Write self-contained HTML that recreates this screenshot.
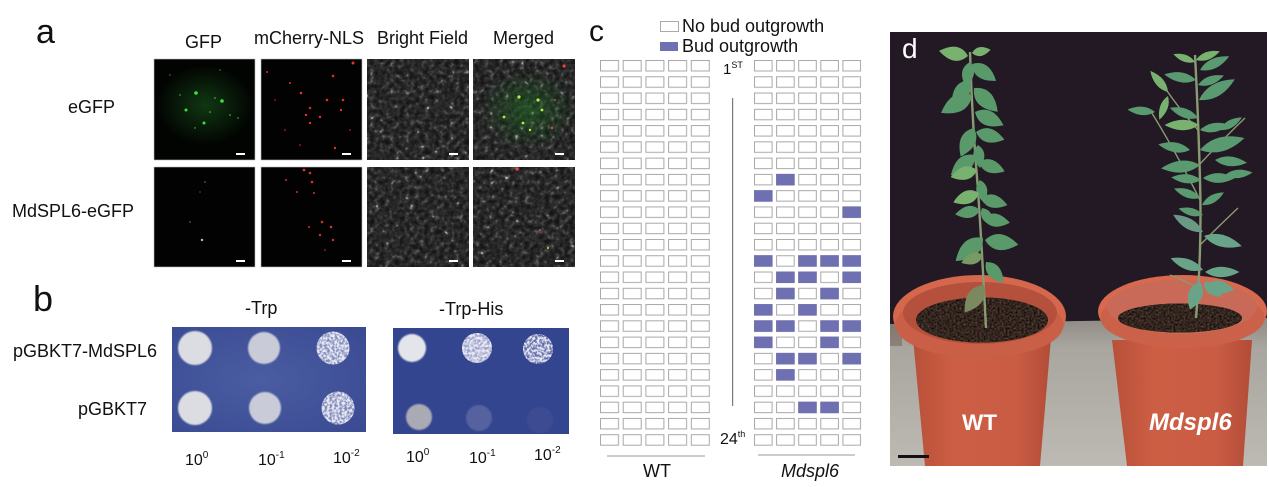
<!DOCTYPE html>
<html><head><meta charset="utf-8"><style>
html,body{margin:0;padding:0;background:#fff;}
svg{display:block;font-family:"Liberation Sans",Arial,sans-serif;}
</style></head><body>
<svg width="1269" height="487" viewBox="0 0 1269 487" xmlns="http://www.w3.org/2000/svg">
<defs>
<filter id="bf" x="0" y="0" width="1" height="1" color-interpolation-filters="sRGB">
<feTurbulence type="fractalNoise" baseFrequency="0.2" numOctaves="2" seed="2"/>
<feColorMatrix type="matrix" values="1 0 0 0 0  1 0 0 0 0  1 0 0 0 0  0 0 0 0 1"/>
<feComponentTransfer>
<feFuncR type="table" tableValues="0.05 0.07 0.09 0.12 0.16 0.21 0.33 0.75 1"/>
<feFuncG type="table" tableValues="0.05 0.07 0.09 0.12 0.16 0.21 0.33 0.75 1"/>
<feFuncB type="table" tableValues="0.05 0.07 0.09 0.12 0.16 0.21 0.33 0.75 1"/>
</feComponentTransfer>
</filter>
<filter id="bf2" x="0" y="0" width="1" height="1" color-interpolation-filters="sRGB">
<feTurbulence type="fractalNoise" baseFrequency="0.2" numOctaves="2" seed="9"/>
<feColorMatrix type="matrix" values="1 0 0 0 0  1 0 0 0 0  1 0 0 0 0  0 0 0 0 1"/>
<feComponentTransfer>
<feFuncR type="table" tableValues="0.05 0.07 0.09 0.12 0.16 0.21 0.33 0.75 1"/>
<feFuncG type="table" tableValues="0.05 0.07 0.09 0.12 0.16 0.21 0.33 0.75 1"/>
<feFuncB type="table" tableValues="0.05 0.07 0.09 0.12 0.16 0.21 0.33 0.75 1"/>
</feComponentTransfer>
</filter>
<filter id="mot" color-interpolation-filters="sRGB">
<feTurbulence type="fractalNoise" baseFrequency="0.4" numOctaves="2" seed="5" result="n"/>
<feColorMatrix in="n" type="matrix" values="0 0 0 0 0.92  0 0 0 0 0.92  0 0 0 0 0.96  0 0 0 3.2 -1.05" result="w"/>
<feComposite in="w" in2="SourceGraphic" operator="in"/>
</filter>
<filter id="soil" x="0" y="0" width="1" height="1" color-interpolation-filters="sRGB">
<feTurbulence type="fractalNoise" baseFrequency="0.5" numOctaves="2" seed="4" result="n"/>
<feColorMatrix in="n" type="matrix" values="0.5 0 0 0 -0.05  0.35 0 0 0 -0.03  0.3 0 0 0 -0.03  0 0 0 0 1" result="c"/>
<feComposite in="c" in2="SourceGraphic" operator="in"/>
</filter>
<filter id="blur1"><feGaussianBlur stdDeviation="0.8"/></filter>
<radialGradient id="ghaze" cx="0.5" cy="0.5" r="0.5">
<stop offset="0" stop-color="#1f6a22" stop-opacity="0.5"/>
<stop offset="1" stop-color="#1f6a22" stop-opacity="0"/>
</radialGradient>
<radialGradient id="mhaze" cx="0.5" cy="0.5" r="0.5">
<stop offset="0" stop-color="#1a7a20" stop-opacity="0.45"/>
<stop offset="1" stop-color="#1a7a20" stop-opacity="0"/>
</radialGradient>
<radialGradient id="plate1" cx="0.45" cy="0.5" r="0.7">
<stop offset="0" stop-color="#4a5ca2"/>
<stop offset="1" stop-color="#3a4b93"/>
</radialGradient>
<linearGradient id="ground" x1="0" y1="0" x2="0" y2="1">
<stop offset="0" stop-color="#8f8a84"/>
<stop offset="0.2" stop-color="#a9a59f"/>
<stop offset="1" stop-color="#bdbab3"/>
</linearGradient>
<linearGradient id="potb" x1="0" y1="0" x2="1" y2="0">
<stop offset="0" stop-color="#b85039"/>
<stop offset="0.3" stop-color="#cc5e44"/>
<stop offset="0.75" stop-color="#c95c43"/>
<stop offset="1" stop-color="#b24c37"/>
</linearGradient>
<pattern id="gw" x="600" y="60" width="22.7" height="16.27" patternUnits="userSpaceOnUse">
<rect x="0.5" y="0.5" width="18" height="10.5" fill="#fff" stroke="#a8a8a8" stroke-width="1"/>
</pattern>
<pattern id="gm" x="754" y="60" width="22.1" height="16.27" patternUnits="userSpaceOnUse">
<rect x="0.5" y="0.5" width="17.6" height="10.5" fill="#fff" stroke="#a8a8a8" stroke-width="1"/>
</pattern>
<clipPath id="photo"><rect x="890" y="32" width="377" height="434"/></clipPath>
<path id="lf" d="M0,0 Q8,-10 21,0 Q8,10 0,0Z"/>
<path id="ln" d="M0,0 Q10,-7 23,0 Q10,7 0,0Z"/>
</defs>

<rect width="1269" height="487" fill="#fff"/>

<!-- ============ Panel a ============ -->
<text x="36" y="43" font-size="34" fill="#111">a</text>
<text x="185" y="48" font-size="18" fill="#111">GFP</text>
<text x="254" y="44" font-size="18" fill="#111">mCherry-NLS</text>
<text x="377" y="44" font-size="18" fill="#111">Bright Field</text>
<text x="493" y="44" font-size="18" fill="#111">Merged</text>
<text x="68" y="113" font-size="18" fill="#111">eGFP</text>
<text x="12" y="217" font-size="18" fill="#111">MdSPL6-eGFP</text>

<!-- row 1 -->
<rect x="154" y="59" width="101" height="101" fill="#020402" stroke="#bbb" stroke-width="0.6"/>
<ellipse cx="205" cy="105" rx="48" ry="40" fill="url(#ghaze)"/>
<g fill="#3ee03e">
<circle cx="196" cy="93" r="1.8"/><circle cx="222" cy="101" r="1.8"/><circle cx="186" cy="110" r="1.5"/>
<circle cx="204" cy="123" r="1.5"/><circle cx="215" cy="98" r="0.8"/><circle cx="210" cy="112" r="0.8"/>
<circle cx="230" cy="115" r="0.8"/><circle cx="180" cy="95" r="0.7"/><circle cx="195" cy="128" r="0.7"/>
<circle cx="170" cy="75" r="0.6"/><circle cx="220" cy="70" r="0.6"/><circle cx="238" cy="118" r="0.7"/>
</g>
<rect x="236" y="153" width="9" height="2" fill="#fff"/>

<rect x="261" y="59" width="101" height="101" fill="#020202" stroke="#bbb" stroke-width="0.6"/>
<g fill="#e2302c">
<circle cx="353" cy="63" r="1.5"/><circle cx="333" cy="76" r="1.3"/><circle cx="301" cy="93" r="1.3"/>
<circle cx="327" cy="100" r="1.3"/><circle cx="343" cy="100" r="1.3"/><circle cx="310" cy="108" r="1.2"/>
<circle cx="306" cy="115" r="1.2"/><circle cx="320" cy="117" r="1.2"/><circle cx="341" cy="110" r="1.2"/>
<circle cx="310" cy="123" r="1.2"/><circle cx="335" cy="148" r="1.2"/><circle cx="290" cy="83" r="1"/>
<circle cx="267" cy="72" r="1"/><circle cx="285" cy="130" r="0.8"/><circle cx="300" cy="145" r="0.8"/>
<circle cx="350" cy="130" r="0.8"/><circle cx="275" cy="100" r="0.7"/>
</g>
<rect x="342" y="153" width="9" height="2" fill="#fff"/>

<rect x="367" y="59" width="102" height="101" fill="#444" filter="url(#bf)"/>
<rect x="449" y="153" width="9" height="2" fill="#fff"/>

<rect x="473" y="59" width="102" height="101" fill="#444" filter="url(#bf2)"/>
<ellipse cx="528" cy="110" rx="48" ry="40" fill="url(#mhaze)"/>
<g fill="#b8f040">
<circle cx="519" cy="97" r="1.6"/><circle cx="538" cy="100" r="1.6"/><circle cx="504" cy="117" r="1.4"/>
<circle cx="523" cy="123" r="1.4"/><circle cx="542" cy="110" r="1.4"/><circle cx="530" cy="130" r="1.2"/>
</g>
<g fill="#e04848"><circle cx="564" cy="66" r="1.6"/><circle cx="552" cy="128" r="1.2"/><circle cx="555" cy="100" r="1"/></g>
<rect x="555" y="153" width="9" height="2" fill="#fff"/>

<!-- row 2 -->
<rect x="154" y="167" width="101" height="100" fill="#020202" stroke="#bbb" stroke-width="0.6"/>
<g fill="#9fd69f"><circle cx="202" cy="240" r="1.2"/><circle cx="190" cy="222" r="0.6"/><circle cx="205" cy="182" r="0.6"/><circle cx="200" cy="192" r="0.5"/></g>
<rect x="236" y="260" width="9" height="2" fill="#fff"/>

<rect x="261" y="167" width="101" height="100" fill="#020202" stroke="#bbb" stroke-width="0.6"/>
<g fill="#d8302c">
<circle cx="304" cy="170" r="1.4"/><circle cx="310" cy="173" r="1.3"/><circle cx="312" cy="182" r="1.3"/>
<circle cx="297" cy="192" r="1"/><circle cx="314" cy="193" r="1"/><circle cx="322" cy="222" r="1.3"/>
<circle cx="331" cy="227" r="1.3"/><circle cx="333" cy="240" r="1.2"/><circle cx="320" cy="235" r="1.2"/>
<circle cx="309" cy="227" r="1"/><circle cx="286" cy="180" r="1"/><circle cx="325" cy="250" r="0.8"/>
</g>
<rect x="342" y="260" width="9" height="2" fill="#fff"/>

<rect x="367" y="167" width="102" height="100" fill="#444" filter="url(#bf2)"/>
<rect x="449" y="260" width="9" height="2" fill="#fff"/>

<rect x="473" y="167" width="102" height="100" fill="#444" filter="url(#bf)"/>
<g fill="#e04848"><circle cx="517" cy="169" r="1.8"/><circle cx="540" cy="230" r="1"/></g>
<g fill="#c8e050"><circle cx="548" cy="248" r="1"/></g>
<rect x="555" y="260" width="9" height="2" fill="#fff"/>

<!-- ============ Panel b ============ -->
<text x="33" y="311" font-size="36" fill="#111">b</text>
<text x="245" y="314" font-size="18" fill="#111">-Trp</text>
<text x="439" y="315" font-size="18" fill="#111">-Trp-His</text>
<text x="157" y="357" font-size="18" fill="#111" text-anchor="end">pGBKT7-MdSPL6</text>
<text x="147" y="415" font-size="18" fill="#111" text-anchor="end">pGBKT7</text>

<rect x="172" y="327" width="194" height="105" fill="url(#plate1)"/>
<g filter="url(#blur1)">
<circle cx="195" cy="348" r="17" fill="#dcdde2"/>
<circle cx="264" cy="348" r="16" fill="#c9ccd8"/>
<circle cx="195" cy="408" r="17" fill="#dcdde2"/>
<circle cx="265" cy="408" r="16" fill="#c9ccd8"/>
</g>
<circle cx="333" cy="348" r="16.5" fill="#7f8abb"/>
<circle cx="333" cy="348" r="16.5" fill="#fff" filter="url(#mot)"/>
<circle cx="338" cy="408" r="16.5" fill="#7f8abb"/>
<circle cx="338" cy="408" r="16.5" fill="#fff" filter="url(#mot)"/>

<rect x="393" y="328" width="176" height="106" fill="#34458f"/>
<g filter="url(#blur1)">
<circle cx="412" cy="348" r="14" fill="#e4e5ea"/>
<circle cx="419" cy="417" r="13" fill="#a9aab4"/>
<circle cx="479" cy="418" r="13" fill="#55629f"/>
<circle cx="540" cy="420" r="13" fill="#3c4c93"/>
</g>
<circle cx="477" cy="348" r="15" fill="#9aa2c8"/>
<circle cx="477" cy="348" r="15" fill="#fff" filter="url(#mot)"/>
<circle cx="538" cy="349" r="15" fill="#5d6aa6"/>
<circle cx="538" cy="349" r="15" fill="#fff" filter="url(#mot)"/>

<g font-size="16" fill="#111">
<text x="185" y="465">10<tspan font-size="10" dy="-7">0</tspan></text>
<text x="258" y="465">10<tspan font-size="10" dy="-7">-1</tspan></text>
<text x="333" y="463">10<tspan font-size="10" dy="-7">-2</tspan></text>
<text x="406" y="462">10<tspan font-size="10" dy="-7">0</tspan></text>
<text x="469" y="463">10<tspan font-size="10" dy="-7">-1</tspan></text>
<text x="534" y="460">10<tspan font-size="10" dy="-7">-2</tspan></text>
</g>

<!-- ============ Panel c ============ -->
<text x="589" y="41" font-size="30" fill="#111">c</text>
<rect x="660.5" y="21.5" width="18" height="10" fill="#fff" stroke="#aaa"/>
<rect x="660" y="42" width="18" height="9" fill="#6e70b2"/>
<text x="682" y="32" font-size="18" fill="#111">No bud outgrowth</text>
<text x="682" y="52" font-size="18" fill="#111">Bud outgrowth</text>

<rect x="600" y="60" width="113.5" height="390.5" fill="url(#gw)"/>
<rect x="754" y="60" width="110.5" height="390.5" fill="url(#gm)"/>

<g fill="#6e70b2">
<rect x="776.1" y="173.9" width="18.5" height="11.5"/>
<rect x="754" y="190.2" width="18.5" height="11.5"/>
<rect x="842.4" y="206.4" width="18.5" height="11.5"/>
<rect x="754" y="255.2" width="18.5" height="11.5"/><rect x="798.2" y="255.2" width="18.5" height="11.5"/><rect x="820.3" y="255.2" width="18.5" height="11.5"/><rect x="842.4" y="255.2" width="18.5" height="11.5"/>
<rect x="776.1" y="271.5" width="18.5" height="11.5"/><rect x="798.2" y="271.5" width="18.5" height="11.5"/><rect x="842.4" y="271.5" width="18.5" height="11.5"/>
<rect x="776.1" y="287.8" width="18.5" height="11.5"/><rect x="820.3" y="287.8" width="18.5" height="11.5"/>
<rect x="754" y="304.1" width="18.5" height="11.5"/><rect x="798.2" y="304.1" width="18.5" height="11.5"/>
<rect x="754" y="320.3" width="18.5" height="11.5"/><rect x="776.1" y="320.3" width="18.5" height="11.5"/><rect x="820.3" y="320.3" width="18.5" height="11.5"/><rect x="842.4" y="320.3" width="18.5" height="11.5"/>
<rect x="754" y="336.6" width="18.5" height="11.5"/><rect x="820.3" y="336.6" width="18.5" height="11.5"/>
<rect x="776.1" y="352.9" width="18.5" height="11.5"/><rect x="798.2" y="352.9" width="18.5" height="11.5"/><rect x="842.4" y="352.9" width="18.5" height="11.5"/>
<rect x="776.1" y="369.1" width="18.5" height="11.5"/>
<rect x="798.2" y="401.7" width="18.5" height="11.5"/><rect x="820.3" y="401.7" width="18.5" height="11.5"/>
</g>

<line x1="732.6" y1="98" x2="732.6" y2="406" stroke="#7a7a7a" stroke-width="1.2"/>
<text x="723" y="74" font-size="15" fill="#111">1<tspan font-size="9" dy="-6">ST</tspan></text>
<text x="720" y="444" font-size="16" fill="#111">24<tspan font-size="9" dy="-7">th</tspan></text>

<line x1="607" y1="456" x2="705" y2="456" stroke="#999" stroke-width="1"/>
<line x1="758" y1="455" x2="855" y2="455" stroke="#999" stroke-width="1"/>
<text x="643" y="477" font-size="18" fill="#111">WT</text>
<text x="781" y="477" font-size="18" fill="#111" font-style="italic">Mdspl6</text>

<!-- ============ Panel d ============ -->
<g clip-path="url(#photo)">
<rect x="890" y="32" width="377" height="434" fill="#221925"/>
<polygon points="890,324 1267,318 1267,466 890,466" fill="url(#ground)"/>
<rect x="890" y="324" width="12" height="22" fill="#7a6a5e" opacity="0.6"/>

<!-- WT pot -->
<polygon points="913,338 1051,338 1040,466 925,466" fill="url(#potb)"/>
<ellipse cx="979.5" cy="316.5" rx="86.5" ry="41.5" fill="#d4674c"/>
<ellipse cx="979.5" cy="325" rx="84" ry="33" fill="#c95f46"/>
<ellipse cx="980" cy="313" rx="77" ry="31" fill="#b4503b"/>
<ellipse cx="982" cy="320" rx="66" ry="22.5" fill="#2b1d1a"/>
<ellipse cx="982" cy="320" rx="66" ry="22.5" fill="#2b1d1a" filter="url(#soil)"/>

<!-- Mdspl6 pot -->
<polygon points="1112,340 1252,340 1243,466 1127,466" fill="url(#potb)"/>
<ellipse cx="1182.5" cy="311.5" rx="84.5" ry="36.5" fill="#d6694e"/>
<ellipse cx="1182.5" cy="318" rx="82" ry="30" fill="#cb6148"/>
<ellipse cx="1182" cy="307" rx="75" ry="27" fill="#c96a58"/>
<ellipse cx="1180" cy="318" rx="62" ry="14.5" fill="#2b1d1a"/>
<ellipse cx="1180" cy="318" rx="62" ry="14.5" fill="#2b1d1a" filter="url(#soil)"/>

<!-- WT plant -->
<path d="M986,328 Q982,250 978,190 Q972,120 970,52" stroke="#8a9a72" stroke-width="2.4" fill="none"/>
<g fill="#5a996a">
<use href="#lf" transform="translate(968,56) rotate(190) scale(1.4)" fill="#78b26e"/>
<use href="#lf" transform="translate(972,53) rotate(-10) scale(0.9)" fill="#78b26e"/>
<use href="#lf" transform="translate(970,62) rotate(100) scale(1.2)"/>
<use href="#lf" transform="translate(972,64) rotate(35) scale(1.4)"/>
<use href="#lf" transform="translate(970,80) rotate(125) scale(1.5)"/>
<use href="#lf" transform="translate(972,95) rotate(150) scale(1.7)"/>
<use href="#lf" transform="translate(974,88) rotate(45) scale(1.6)"/>
<use href="#lf" transform="translate(975,112) rotate(25) scale(1.5)"/>
<use href="#lf" transform="translate(974,128) rotate(115) scale(1.5)"/>
<use href="#lf" transform="translate(976,132) rotate(15) scale(1.4)"/>
<use href="#lf" transform="translate(978,145) rotate(85) scale(1.1)"/>
<use href="#lf" transform="translate(975,155) rotate(140) scale(1.5)"/>
<use href="#lf" transform="translate(977,170) rotate(165) scale(1.3)" fill="#78b26e"/>
<use href="#lf" transform="translate(979,162) rotate(20) scale(1.3)"/>
<use href="#lf" transform="translate(980,180) rotate(80) scale(1.1)"/>
<use href="#lf" transform="translate(979,193) rotate(160) scale(1.3)" fill="#78b26e"/>
<use href="#lf" transform="translate(981,198) rotate(15) scale(1.3)"/>
<use href="#lf" transform="translate(980,210) rotate(170) scale(1.2)"/>
<use href="#lf" transform="translate(982,208) rotate(60) scale(1)"/>
<use href="#lf" transform="translate(983,218) rotate(10) scale(1.3)"/>
<use href="#lf" transform="translate(983,238) rotate(140) scale(1.7)"/>
<use href="#lf" transform="translate(985,240) rotate(8) scale(1.6)"/>
<use href="#lf" transform="translate(983,255) rotate(160) scale(1.1)" fill="#7a9a64"/>
<use href="#lf" transform="translate(986,262) rotate(50) scale(1.3)"/>
<use href="#lf" transform="translate(984,285) rotate(125) scale(1.6)" fill="#7a8a5e"/>
</g>

<!-- Mdspl6 plant -->
<path d="M1196,318 Q1202,250 1200,180 Q1198,110 1195,55" stroke="#8a9a72" stroke-width="2.4" fill="none"/>
<path d="M1200,200 Q1175,150 1150,110 M1199,165 Q1222,140 1245,118 M1200,245 Q1220,225 1238,208 M1198,130 Q1180,110 1165,88 M1201,290 Q1185,280 1170,275" stroke="#8a9a72" stroke-width="1.4" fill="none"/>
<g fill="#5a9a70">
<use href="#ln" transform="translate(1195,62) rotate(200) scale(1)" fill="#78b26e"/>
<use href="#ln" transform="translate(1196,60) rotate(-20) scale(1.1)" fill="#78b26e"/>
<use href="#ln" transform="translate(1200,70) rotate(-25) scale(1.4)"/>
<use href="#ln" transform="translate(1196,80) rotate(190) scale(1.4)"/>
<use href="#ln" transform="translate(1198,85) rotate(-20) scale(1.2)"/>
<use href="#ln" transform="translate(1168,92) rotate(230) scale(1.2)" fill="#78b26e"/>
<use href="#ln" transform="translate(1168,96) rotate(110) scale(1.1)" fill="#78b26e"/>
<use href="#ln" transform="translate(1199,100) rotate(-30) scale(1.8)"/>
<use href="#ln" transform="translate(1198,118) rotate(200) scale(1.3)"/>
<use href="#ln" transform="translate(1155,112) rotate(185) scale(1.2)"/>
<use href="#ln" transform="translate(1199,125) rotate(180) scale(1.5)" fill="#78b26e"/>
<use href="#ln" transform="translate(1200,130) rotate(-10) scale(1.3)"/>
<use href="#ln" transform="translate(1220,130) rotate(-30) scale(1.1)"/>
<use href="#ln" transform="translate(1200,150) rotate(-15) scale(2)"/>
<use href="#ln" transform="translate(1190,150) rotate(190) scale(1.4)"/>
<use href="#ln" transform="translate(1215,160) rotate(5) scale(1.4)"/>
<use href="#ln" transform="translate(1200,165) rotate(175) scale(1.7)"/>
<use href="#ln" transform="translate(1201,180) rotate(185) scale(1.3)"/>
<use href="#ln" transform="translate(1203,178) rotate(0) scale(1.4)"/>
<use href="#ln" transform="translate(1225,175) rotate(-5) scale(1.2)"/>
<use href="#ln" transform="translate(1200,198) rotate(200) scale(1.2)"/>
<use href="#ln" transform="translate(1202,205) rotate(-30) scale(1.1)"/>
<use href="#ln" transform="translate(1203,215) rotate(195) scale(1.1)"/>
<use href="#ln" transform="translate(1203,232) rotate(210) scale(1.5)" fill="#6a9a84"/>
<use href="#ln" transform="translate(1204,236) rotate(15) scale(1.7)" fill="#6aa488"/>
<use href="#ln" transform="translate(1203,270) rotate(200) scale(1.5)" fill="#6aa488"/>
<use href="#ln" transform="translate(1205,272) rotate(0) scale(1.5)" fill="#6aa488"/>
<use href="#lf" transform="translate(1200,282) rotate(110) scale(1.4)" fill="#6aa488"/>
<use href="#lf" transform="translate(1204,282) rotate(40) scale(1.1)" fill="#6aa488"/>
<use href="#lf" transform="translate(1207,285) rotate(10) scale(1.3)" fill="#6aa488"/>
</g>

<text x="902" y="58" font-size="28" fill="#fff">d</text>
<text x="962" y="430" font-size="22.5" font-weight="bold" fill="#fff">WT</text>
<text x="1149" y="430" font-size="24" font-weight="bold" font-style="italic" fill="#fff">Mdspl6</text>
<rect x="898" y="455" width="31" height="3" fill="#111"/>
</g>
</svg>
</body></html>
